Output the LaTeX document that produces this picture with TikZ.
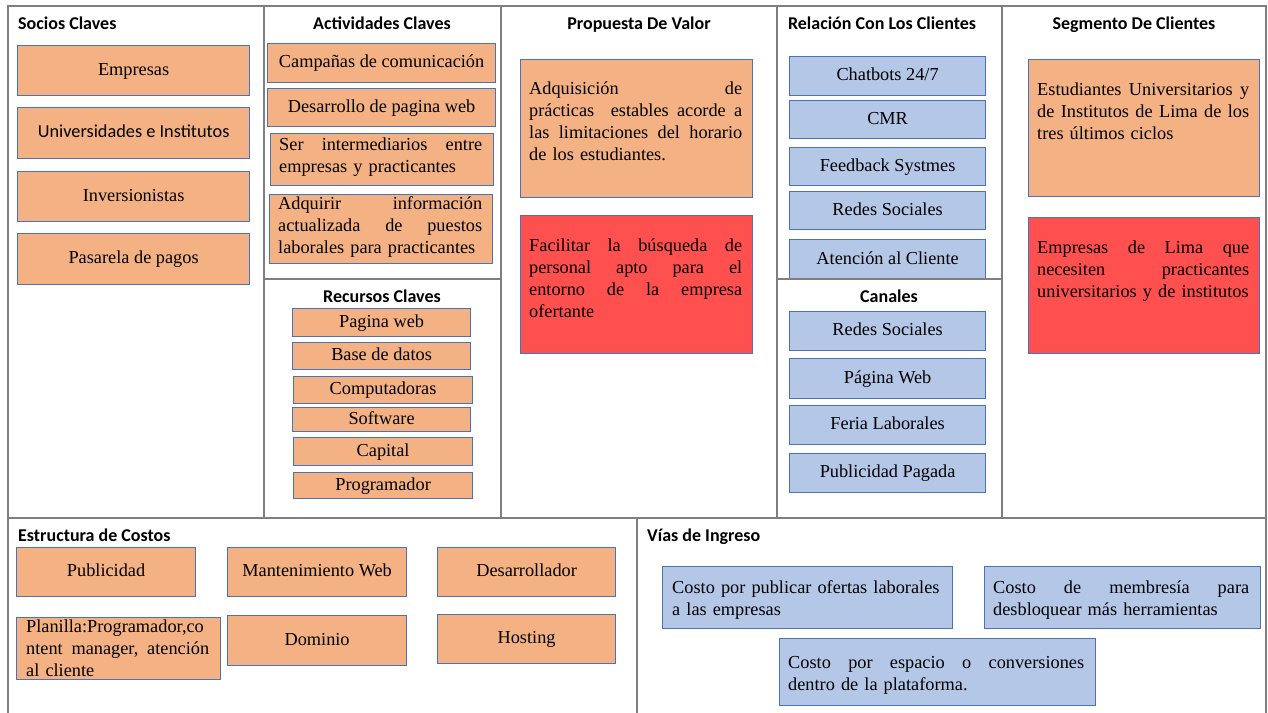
\documentclass[tikz,border=0pt]{standalone}
\usepackage{fontspec}
\setmainfont{Liberation Serif}
\newfontfamily\calib{Carlito}
\definecolor{ofill}{HTML}{F4B183}
\definecolor{bfill}{HTML}{B4C7E7}
\definecolor{rfill}{HTML}{FF5050}
\definecolor{bbord}{HTML}{4A72B8}
\definecolor{framegray}{HTML}{7F7F7F}
\newcommand{\bodyf}{\fontsize{18.3}{22}\selectfont}
\newcommand{\jl}[2]{\leavevmode\hbox to #1{#2}}
\newcommand{\mkbox}[7]{\node[#1, minimum width={#5-#3}, minimum height={#6-#4}] (#2) at (#3,#4) {#7};}
\begin{document}
\begin{tikzpicture}[x=1pt,y=-1pt,
  frame/.style={draw=framegray, line width=2.2pt},
  boxbase/.style={draw=bbord, line width=1.2pt, inner sep=0pt, anchor=north west, font=\bodyf, text height=12.5pt, text depth=3.5pt},
  obox/.style={boxbase, fill=ofill},
  bbox/.style={boxbase, fill=bfill},
  rbox/.style={boxbase, fill=rfill},
  btext/.style={inner sep=0pt, align=left, anchor=base west, font=\bodyf},
  hdr/.style={inner sep=0pt, font=\calib\bfseries\fontsize{18}{22}\selectfont, anchor=base},
  sansf/.style={font=\calib\fontsize{18.3}{22}\selectfont}]
\useasboundingbox (0,0) rectangle (1268,712);
\fill[white] (0,0) rectangle (1268,712);

% headers
\node[hdr, anchor=base west] (hsocios) at (18,29) {Socios Claves};
\node[hdr] (hact) at (382,29) {Actividades Claves};
\node[hdr] (hprop) at (639,29) {Propuesta De Valor};
\node[hdr] (hrel) at (882,29) {Relación Con Los Clientes};
\node[hdr] (hseg) at (1134,29) {Segmento De Clientes};
\node[hdr] (hrec) at (382,302) {Recursos Claves};
\node[hdr] (hcan) at (889,302) {Canales};
\node[hdr, anchor=base west] (hcost) at (18,541) {Estructura de Costos};
\node[hdr, anchor=base west] (hing) at (647,541) {Vías de Ingreso};

% Socios Claves
\mkbox{obox}{s1}{17}{45}{249}{95}{Empresas}
\mkbox{obox,sansf}{s2}{17}{107}{249}{158}{Universidades e Institutos}
\mkbox{obox}{s3}{17}{171}{249}{221}{Inversionistas}
\mkbox{obox}{s4}{17}{233}{249}{284}{Pasarela de pagos}

% Actividades Claves
\mkbox{obox}{a1}{267}{43}{495}{82}{Campañas de comunicación}
\mkbox{obox}{a2}{267}{88}{495}{126}{Desarrollo de pagina web}
\mkbox{obox}{a3}{270}{133}{493}{185}{}
\node[btext, text width=203pt] (a3t) at (279,150) {\jl{203pt}{Ser\hfill intermediarios\hfill entre}\\empresas y practicantes};
\mkbox{obox}{a4}{269}{194}{492}{263}{}
\node[btext, text width=204pt] (a4t) at (278,209) {\jl{204pt}{Adquirir\hfill información}\\\jl{204pt}{actualizada\hfill de\hfill puestos}\\laborales para practicantes};

% Recursos Claves
\mkbox{obox}{r1}{292}{308}{470}{336}{Pagina web}
\mkbox{obox}{r2}{292}{342}{470}{369}{Base de datos}
\mkbox{obox}{r3}{293}{376}{472}{403}{Computadoras}
\mkbox{obox}{r4}{292}{407}{470}{431}{Software}
\mkbox{obox}{r5}{293}{437}{472}{465}{Capital}
\mkbox{obox}{r6}{293}{472}{472}{498}{Programador}

% Propuesta de valor
\mkbox{obox}{p1}{520}{59}{752}{197}{}
\node[btext, text width=213pt] (p1t) at (529,94) {\jl{213pt}{Adquisición\hfill de}\\\jl{213pt}{prácticas\hfill\hfill estables\hfill acorde\hfill a}\\\jl{213pt}{las\hfill limitaciones\hfill del\hfill horario}\\de los estudiantes.};
\mkbox{rbox}{p2}{520}{215}{752}{353}{}
\node[btext, text width=213pt] (p2t) at (529,251) {\jl{213pt}{Facilitar\hfill la\hfill búsqueda\hfill de}\\\jl{213pt}{personal\hfill apto\hfill para\hfill el}\\\jl{213pt}{entorno\hfill de\hfill la\hfill empresa}\\ofertante};

% Relacion con los clientes
\mkbox{bbox}{c1}{789}{56}{985}{95}{Chatbots 24/7}
\mkbox{bbox}{c2}{789}{100}{985}{138}{CMR}
\mkbox{bbox}{c3}{789}{147}{985}{185}{Feedback Systmes}
\mkbox{bbox}{c4}{789}{191}{985}{229}{Redes Sociales}
\mkbox{bbox}{c5}{789}{239}{985}{279}{Atención al Cliente}

% Canales
\mkbox{bbox}{k1}{789}{311}{985}{350}{Redes Sociales}
\mkbox{bbox}{k2}{789}{358}{985}{398}{Página Web}
\mkbox{bbox}{k3}{789}{405}{985}{444}{Feria Laborales}
\mkbox{bbox}{k4}{789}{453}{985}{492}{Publicidad Pagada}

% Segmento de clientes
\mkbox{obox}{g1}{1028}{59}{1259}{196}{}
\node[btext, text width=212pt] (g1t) at (1037,95) {\jl{212pt}{Estudiantes\hfill Universitarios\hfill y}\\\jl{212pt}{de\hfill Institutos\hfill de\hfill Lima\hfill de\hfill los}\\tres últimos ciclos};
\mkbox{rbox}{g2}{1028}{217}{1259}{353}{}
\node[btext, text width=212pt] (g2t) at (1037,253) {\jl{212pt}{Empresas\hfill de\hfill Lima\hfill que}\\\jl{212pt}{necesiten\hfill practicantes}\\universitarios y de institutos};

% Estructura de costos
\mkbox{obox}{e1}{16}{547}{195}{596}{Publicidad}
\mkbox{obox}{e2}{227}{547}{406}{596}{Mantenimiento Web}
\mkbox{obox}{e3}{437}{547}{615}{596}{Desarrollador}
\mkbox{obox}{e4}{16}{617}{220}{679}{}
\node[btext, text width=183pt] (e4t) at (26,632) {\jl{183pt}{Planilla:Programador,co}\\\jl{183pt}{ntent\hfill manager,\hfill atención}\\al cliente};
\mkbox{obox}{e5}{227}{615}{406}{665}{Dominio}
\mkbox{obox}{e6}{437}{614}{615}{663}{Hosting}

% Vias de ingreso
\mkbox{bbox}{v1}{662}{566}{952}{628}{}
\node[btext, text width=272pt] (v1t) at (672,593) {Costo por publicar ofertas laborales\\a las empresas};
\mkbox{bbox}{v2}{984}{566}{1260}{628}{}
\node[btext, text width=256pt] (v2t) at (993,593) {\jl{256pt}{Costo\hfill de\hfill membresía\hfill para}\\desbloquear más herramientas};
\mkbox{bbox}{v3}{779}{638}{1095}{705}{}
\node[btext, text width=296pt] (v3t) at (788,668) {\jl{296pt}{Costo\hfill por\hfill espacio\hfill o\hfill conversiones}\\dentro de la plataforma.};

% frame
\draw[frame] (8,730) -- (8,6) -- (1266,6) -- (1266,730);
\draw[frame] (8,518) -- (1266,518);
\draw[frame] (264,6) -- (264,518);
\draw[frame] (501,6) -- (501,518);
\draw[frame] (777,6) -- (777,518);
\draw[frame] (1002,6) -- (1002,518);
\draw[frame] (264,279) -- (501,279);
\draw[frame] (777,279) -- (1002,279);
\draw[frame] (637,518) -- (637,730);
\end{tikzpicture}
\end{document}
